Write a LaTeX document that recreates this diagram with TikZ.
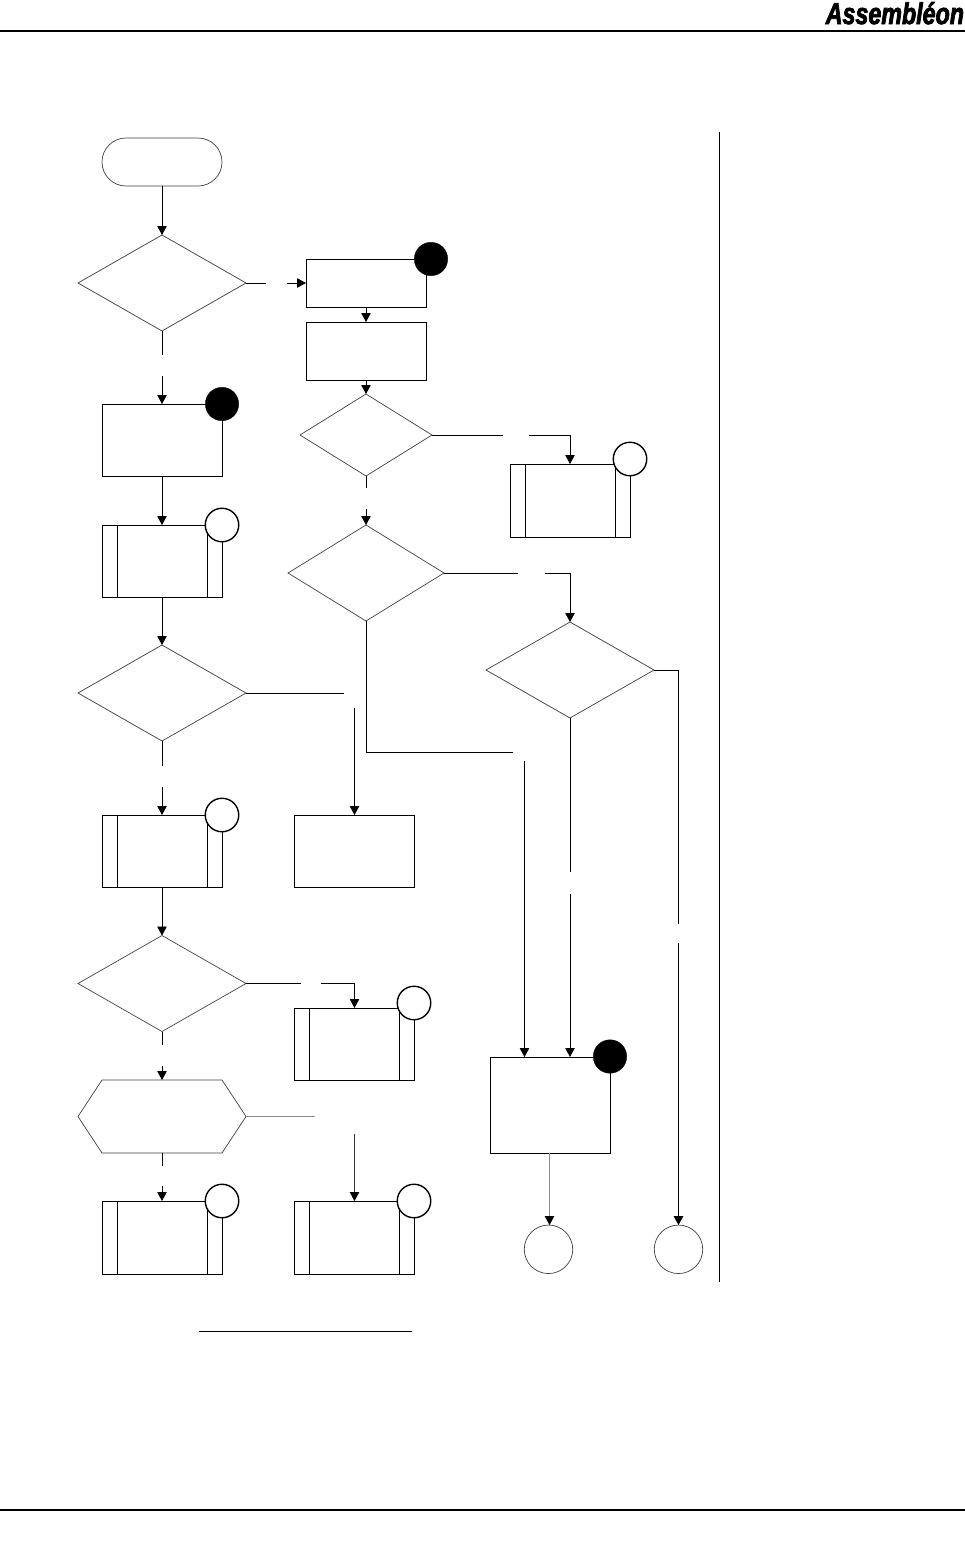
\documentclass[tikz,border=0pt]{standalone}
\usepackage{fontspec}
\setmainfont{Liberation Sans}
\newfontfamily\logofont[UprightFont=* Bold Italic,RawFeature={embolden=3}]{Liberation Sans}
\usetikzlibrary{arrows.meta,shapes.geometric,calc}
\tikzset{
  thinline/.style={draw=black!75,line width=0.7pt},
  blackline/.style={draw=black,line width=0.9pt},
  plainbox/.style={rectangle,blackline,fill=white,minimum width=120pt,inner sep=0pt,outer sep=0pt},
  prebox/.style={plainbox,path picture={
    \draw[black,line width=0.9pt] ([xshift=15pt]path picture bounding box.north west) -- ([xshift=15pt]path picture bounding box.south west);
    \draw[black,line width=0.9pt] ([xshift=-15pt]path picture bounding box.north east) -- ([xshift=-15pt]path picture bounding box.south east);}},
  decision/.style={diamond,thinline,fill=white,inner sep=0pt,outer sep=0pt,minimum width=168pt,minimum height=96pt},
  blackdot/.style={circle,fill=black,draw=black,line width=0.3pt,minimum size=33.5pt,inner sep=0pt},
  whitedot/.style={circle,fill=white,draw=black,line width=1.4pt,minimum size=33.5pt,inner sep=0pt},
  endcirc/.style={circle,fill=white,thinline,minimum size=48.5pt,inner sep=0pt,outer sep=0pt},
  flow/.style={draw=black,line width=0.85pt,-{Triangle[width=9.5pt,length=9pt,color=black]}},
  stub/.style={draw=black,line width=0.85pt},
  rulethin/.style={draw=black,line width=1pt},
  rulethick/.style={draw=black,line width=2.2pt}
}
\begin{document}
\begin{tikzpicture}[x=1pt,y=-1pt]
\useasboundingbox (0,0) rectangle (965,1566);
% page furniture
\coordinate (hl) at (0,30.8); \coordinate (hr) at (965,30.8);
\coordinate (fl) at (0,1510); \coordinate (fr) at (965,1510);
\coordinate (vt) at (719,132); \coordinate (vb) at (719,1282);
\coordinate (nl) at (199,1331); \coordinate (nr) at (412,1331);
\draw[rulethick] (hl) -- (hr);
\draw[rulethick] (fl) -- (fr);
\draw[rulethin] (vt) -- (vb);
\draw[rulethin] (nl) -- (nr);
\node[anchor=base east,inner sep=0pt,outer sep=0pt,xscale=0.775,font=\fontsize{30}{30}\selectfont\logofont] (logo) at (964,24) {Assembléon};
% shapes
\node[rectangle,rounded corners=24pt,thinline,minimum width=120pt,minimum height=48pt,inner sep=0pt,outer sep=0pt] (start) at (162,162) {};
\node[decision] (d1) at (162,283) {};
\node[plainbox,minimum height=48pt] (A) at (366,283) {};
\node[plainbox,minimum height=58pt] (B) at (366,351) {};
\node[decision,minimum width=132pt,minimum height=82pt] (d2) at (366,435) {};
\node[prebox,minimum height=73pt] (P1) at (570,500.5) {};
\node[decision,minimum width=156pt] (d3) at (366,573) {};
\node[decision] (d4) at (570,670) {};
\node[plainbox,minimum height=72pt] (C) at (162,440) {};
\node[prebox,minimum height=72pt] (P2) at (162,561) {};
\node[decision] (d5) at (162,693) {};
\node[prebox,minimum height=72pt] (P3) at (162,851) {};
\node[plainbox,minimum height=72pt] (D) at (354.5,851) {};
\node[decision] (d6) at (162,983.5) {};
\node[prebox,minimum height=72pt] (P4) at (354.5,1044) {};
\node[inner sep=0pt,outer sep=0pt,minimum width=168pt,minimum height=73pt] (hex) at (162,1116.5) {};
\draw[thinline] (hex.west) -- ($(hex.north west)+(24,0)$) -- ($(hex.north east)+(-24,0)$) -- (hex.east) -- ($(hex.south east)+(-24,0)$) -- ($(hex.south west)+(24,0)$) -- cycle;
\node[prebox,minimum height=73pt] (P5) at (162,1237.5) {};
\node[prebox,minimum height=73pt] (P6) at (354.5,1237.5) {};
\node[plainbox,minimum height=96pt] (E) at (550.5,1105) {};
\node[endcirc] (c1) at (548.5,1249.3) {};
\node[endcirc] (c2) at (678.5,1249.3) {};
% corner markers
\node[blackdot] (m1) at (431,259) {};
\node[blackdot] (m2) at (222,404) {};
\node[blackdot] (m3) at (610,1056.5) {};
\node[whitedot] (m4) at (630,459) {};
\node[whitedot] (m5) at (222,525) {};
\node[whitedot] (m6) at (222,815) {};
\node[whitedot] (m7) at (414,1003) {};
\node[whitedot] (m8) at (222,1201) {};
\node[whitedot] (m9) at (414,1201) {};
% connector ends at the label gaps
\coordinate (a1) at (266,283); \coordinate (a2) at (287,283);
\coordinate (b1) at (162,355); \coordinate (b2) at (162,376);
\coordinate (e1) at (503,435); \coordinate (e2) at (529,435);
\coordinate (f1) at (366,488); \coordinate (f2) at (366,509);
\coordinate (g1) at (518,573); \coordinate (g2) at (545,573);
\coordinate (h2) at (513,752); \coordinate (h3) at (524.5,761); \coordinate (h4) at (524.5,1057);
\coordinate (i1) at (570,872); \coordinate (i2) at (570,894); \coordinate (i3) at (570,1057);
\coordinate (j0) at (678.5,670); \coordinate (j1) at (678.5,924); \coordinate (j2) at (678.5,943);
\coordinate (k1) at (344,693); \coordinate (k2) at (354.5,708);
\coordinate (l1) at (162,766); \coordinate (l2) at (162,787);
\coordinate (n1) at (301,983.5); \coordinate (n2) at (321,983.5);
\coordinate (o1) at (162,1045); \coordinate (o2) at (162,1066);
\coordinate (q1) at (315,1116.5); \coordinate (q2) at (354.5,1134);
\coordinate (r1) at (162,1166); \coordinate (r2) at (162,1186);
\coordinate (s1) at (549.5,1153); \coordinate (s2) at (549.5,1225);
% connectors
\draw[flow] (start) -- (d1);
\draw[stub] (d1.east) -- (a1); \draw[flow] (a2) -- (A.west);
\draw[stub] (d1.south) -- (b1); \draw[flow] (b2) -- (C.north);
\draw[flow] (A) -- (B);
\draw[flow] (B) -- (d2);
\draw[stub] (d2.east) -- (e1); \draw[flow] (e2) -| (P1.north);
\draw[stub] (d2.south) -- (f1); \draw[flow] (f2) -- (d3.north);
\draw[stub] (d3.east) -- (g1); \draw[flow] (g2) -| (d4.north);
\draw[stub] (d3.south) |- (h2); \draw[flow] (h3) -- (h4);
\draw[stub] (d4.south) -- (i1); \draw[flow] (i2) -- (i3);
\draw[stub] (d4.east) -- (j0) -- (j1); \draw[flow] (j2) -- (c2.north);
\draw[flow] (C) -- (P2);
\draw[flow] (P2) -- (d5);
\draw[stub] (d5.east) -- (k1); \draw[flow] (k2) -- (D.north);
\draw[stub] (d5.south) -- (l1); \draw[flow] (l2) -- (P3.north);
\draw[flow] (P3) -- (d6);
\draw[stub] (d6.east) -- (n1); \draw[flow] (n2) -| (P4.north);
\draw[stub] (d6.south) -- (o1); \draw[flow] (o2) -- (hex.north);
\draw[stub,draw=black!45] (hex.east) -- (q1); \draw[flow,draw=black!80] (q2) -- (P6.north);
\draw[stub] (hex.south) -- (r1); \draw[flow] (r2) -- (P5.north);
\draw[flow,draw=black!45] (s1) -- (s2);
\end{tikzpicture}
\end{document}
